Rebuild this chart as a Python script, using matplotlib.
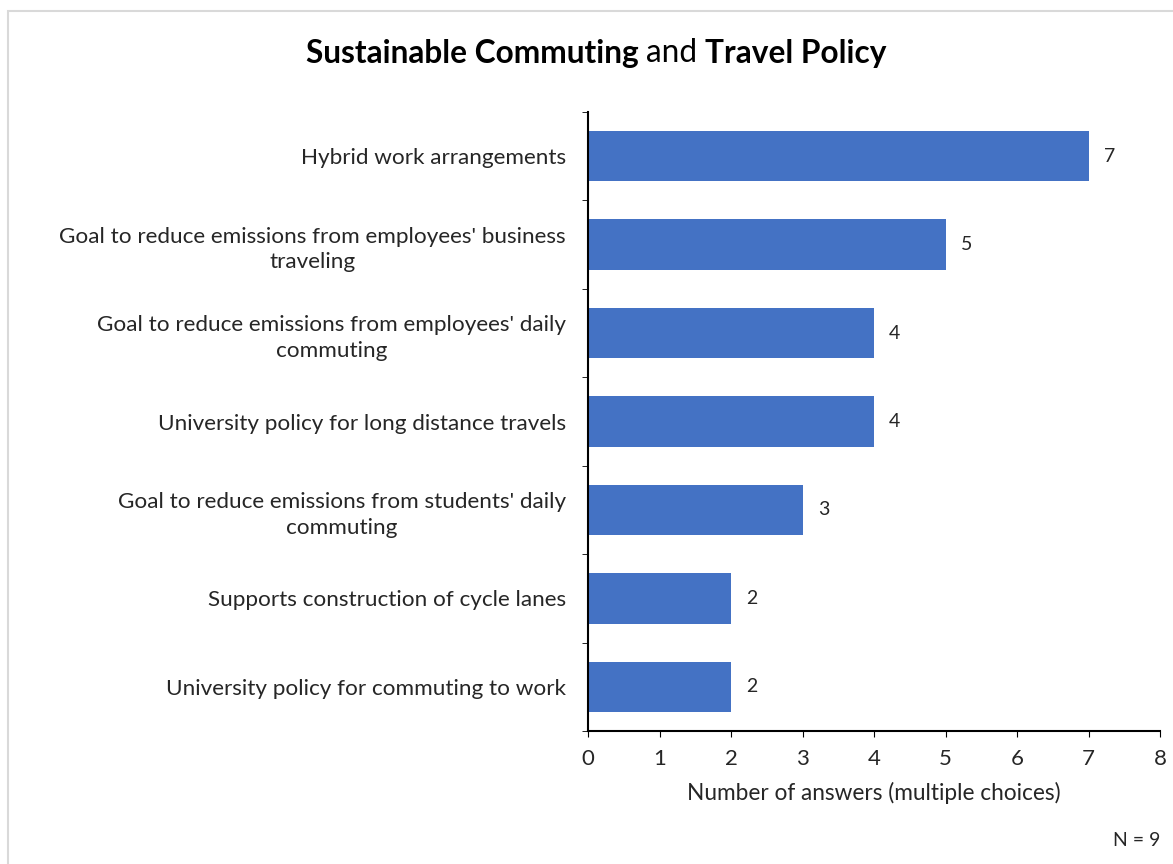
import matplotlib
matplotlib.use('Agg')
from matplotlib import pyplot as plt
from matplotlib.patches import Rectangle
import numpy as np

plt.rcParams['font.family'] = ['Lato', 'DejaVu Sans']

# data, top to bottom as in the chart
categories = [
    "Hybrid work arrangements",
    "Goal to reduce emissions from employees' business\ntraveling",
    "Goal to reduce emissions from employees' daily\ncommuting",
    "University policy for long distance travels",
    "Goal to reduce emissions from students' daily\ncommuting",
    "Supports construction of cycle lanes",
    "University policy for commuting to work",
]
answers = [7, 5, 4, 4, 3, 2, 2]
n_total = 9

bar_color = '#4472C4'
text_color = '#262626'

fig = plt.figure(figsize=(11.73, 8.64), dpi=100)
ax = fig.add_axes([588 / 1173, 1 - 731 / 864, (1160 - 588) / 1173, (731 - 112) / 864])

y = np.arange(len(categories))
ax.barh(y, answers, height=0.57, color=bar_color)
ax.set_ylim(len(categories) - 0.5, -0.5)
ax.set_xlim(0, 8)

# value labels
for yi, v in zip(y, answers):
    ax.annotate(str(v), (v, yi), xytext=(11, 0), textcoords='offset points',
                ha='left', va='center', fontsize=14, color=text_color)

ax.set_yticks(y)
ax.set_yticklabels(categories, fontsize=16.2, color=text_color, linespacing=1.35)
ax.set_yticks(np.arange(len(categories) + 1) - 0.5, minor=True)
ax.tick_params(axis='y', which='major', length=0, pad=16)
ax.tick_params(axis='y', which='minor', length=4, direction='out', color='black')
for lbl in ax.get_yticklabels():
    lbl.set_horizontalalignment('right')
    lbl.set_multialignment('center')

ax.set_xticks(np.arange(0, 9))
ax.tick_params(axis='x', length=4, direction='out', labelsize=16, labelcolor=text_color, pad=9)
ax.set_xlabel("Number of answers (multiple choices)", fontsize=16.3, color=text_color, labelpad=9)

for s in ['top', 'right']:
    ax.spines[s].set_visible(False)
for s in ['left', 'bottom']:
    ax.spines[s].set_color('black')
    ax.spines[s].set_linewidth(1.5)

# title in three pieces: bold / normal / bold
fig.canvas.draw()
renderer = fig.canvas.get_renderer()
parts = [("Sustainable Commuting ", 'bold'), ("and ", 'normal'), ("Travel Policy", 'bold')]
texts = []
for txt, w in parts:
    t = fig.text(0, 1 - 53 / 864, txt, fontsize=22.8, fontweight=w, va='center', ha='left', color='black')
    texts.append(t)
widths = [t.get_window_extent(renderer).width for t in texts]
x0 = 596 - sum(widths) / 2
for t, w in zip(texts, widths):
    t.set_x(x0 / 1173)
    x0 += w

fig.text(1160 / 1173, 1 - 840 / 864, f"N = {n_total}", ha='right', va='center', fontsize=14, color=text_color)

# light grey frame around the chart area
fig.patches.append(Rectangle((8 / 1173, -0.1), 1.2, 1 - 11 / 864 + 0.1, transform=fig.transFigure,
                             fill=False, edgecolor='#d9d9d9', linewidth=1.5))

fig.savefig('out.png', dpi=100)
